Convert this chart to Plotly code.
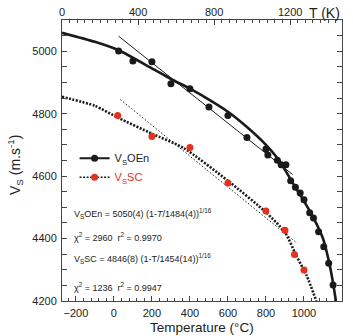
import plotly.graph_objects as go

# --- data ---
oen_T = [25, 100, 200, 300, 400, 500, 600, 700, 800, 810, 860, 880, 905, 930, 955, 980, 1000, 1030, 1050, 1077, 1104, 1130, 1153]
oen_V = [5001, 4969, 4966, 4896, 4880, 4821, 4794, 4724, 4687, 4668, 4651, 4636, 4636, 4585, 4564, 4546, 4524, 4483, 4466, 4422, 4374, 4321, 4251]

sc_T = [20, 200, 400, 600, 800, 900, 950, 1000]
sc_V = [4794, 4727, 4692, 4578, 4488, 4427, 4349, 4299]

# fit curves
oen_fit_T = [-273, -100, 25, 200, 300, 400, 500, 600, 700, 800, 850, 900, 950, 1000, 1050, 1100, 1130, 1150, 1168]
oen_fit_V = [5059, 5030, 5003, 4945, 4911, 4880, 4845, 4806, 4757, 4700, 4665, 4620, 4569, 4520, 4466, 4400, 4330, 4268, 4200]
sc_fit_T = [-273, -100, 25, 200, 367, 600, 800, 900, 960, 1015, 1065]
sc_fit_V = [4854, 4825, 4786, 4736, 4690, 4585, 4484, 4420, 4345, 4280, 4200]

# linear (low-T) fits
oen_lin_T = [25, 940]
oen_lin_V = [5048, 4605]
sc_lin_T = [34, 964]
sc_lin_V = [4845, 4385]

x_ticks = [-200, 0, 200, 400, 600, 800, 1000, 1200]
k_ticks = [0, 400, 800, 1200]
y_ticks = [4200, 4400, 4600, 4800, 5000]

RED = "#e4321f"
BLK = "#1a1a1a"
FONT = "Liberation Sans"

fig = go.Figure()
fig.add_trace(go.Scatter(x=oen_fit_T, y=oen_fit_V, mode="lines", line=dict(color=BLK, width=2.6, shape="spline", smoothing=0.6), showlegend=False))
fig.add_trace(go.Scatter(x=oen_lin_T, y=oen_lin_V, mode="lines", line=dict(color=BLK, width=1), showlegend=False))
fig.add_trace(go.Scatter(x=sc_fit_T, y=sc_fit_V, mode="lines", line=dict(color=BLK, width=2.6, dash="2px,1.5px", shape="spline", smoothing=0.6), showlegend=False))
fig.add_trace(go.Scatter(x=sc_lin_T, y=sc_lin_V, mode="lines", line=dict(color=BLK, width=1, dash="1.5px,2px"), showlegend=False))
fig.add_trace(go.Scatter(x=oen_T, y=oen_V, mode="markers", marker=dict(color=BLK, size=7), showlegend=False))
fig.add_trace(go.Scatter(x=sc_T, y=sc_V, mode="markers", marker=dict(color=RED, size=7), showlegend=False))

# legend entries
fig.add_trace(go.Scatter(x=[None], y=[None], mode="lines+markers", name="V<sub>S</sub>OEn",
                         line=dict(color=BLK, width=2), marker=dict(color=BLK, size=7)))
fig.add_trace(go.Scatter(x=[None], y=[None], mode="lines+markers", name="<span style='color:%s'>V<sub>S</sub>SC</span>" % RED,
                         line=dict(color=BLK, width=1.5, dash="2px,1.5px"), marker=dict(color=RED, size=7)))

# invisible trace for top Kelvin axis
fig.add_trace(go.Scatter(x=[0, 1473], y=[4200, 4200], xaxis="x2", mode="markers", marker=dict(opacity=0), showlegend=False, hoverinfo="skip"))

axis_common = dict(showgrid=False, zeroline=False, linecolor="#444", linewidth=1, ticks="inside", ticklen=5,
                   tickcolor="#444", tickfont=dict(family=FONT, size=11, color="#222"), automargin=False)

fig.update_layout(
    width=353, height=336,
    margin=dict(l=62, r=11, t=20, b=35),
    paper_bgcolor="white", plot_bgcolor="white",
    font=dict(family=FONT, color="#222"),
    xaxis=dict(range=[-273, 1200], tickvals=x_ticks, mirror=True, ticklabelstandoff=2,
               minor=dict(dtick=40, ticks="inside", ticklen=3, tickcolor="#444"), **axis_common),
    xaxis2=dict(range=[0, 1473], overlaying="x", side="top", tickvals=k_ticks, showticklabels=False,
                minor=dict(dtick=40, ticks="inside", ticklen=3, tickcolor="#444"), **axis_common),
    yaxis=dict(range=[4200, 5100], tickvals=y_ticks, mirror="allticks", ticklabelstandoff=2,
               minor=dict(dtick=50, ticks="inside", ticklen=3, tickcolor="#444"), **axis_common),
    legend=dict(x=0.045, y=0.56, xanchor="left", yanchor="top", bgcolor="rgba(0,0,0,0)",
                font=dict(family=FONT, size=11, color=BLK), tracegroupgap=0, itemwidth=30),
)

# top (Kelvin) tick labels
for k in k_ticks:
    fig.add_annotation(text=str(k), xref="x2", yref="paper", x=k, y=(301 - 12) / 281,
                       xanchor="center", yanchor="middle", showarrow=False, font=dict(family=FONT, size=11, color="#222"))

ann_font = dict(family=FONT, size=9, color="#222")
texts = [
    ("V<sub>S</sub>OEn = 5050(4) (1-<i>T</i>/1484(4))<sup>1/16</sup>", 213),
    ("χ<sup>2</sup> = 2960  r<sup>2</sup> = 0.9970", 237),
    ("V<sub>S</sub>SC = 4846(8) (1-T/1454(14))<sup>1/16</sup>", 258),
    ("χ<sup>2</sup> = 1236  r<sup>2</sup> = 0.9947", 287),
]
for t, ypx in texts:
    fig.add_annotation(text=t, xref="paper", yref="paper", x=(72 - 62) / 280, y=(301 - ypx) / 281,
                       xanchor="left", yanchor="middle", showarrow=False, font=ann_font)
fig.add_annotation(text="T (K)", xref="paper", yref="paper", x=1.0, y=(301 - 13) / 281, xanchor="right", yanchor="middle",
                   showarrow=False, font=dict(family=FONT, size=14, color="#222"))
fig.add_annotation(text="Temperature (°C)", xref="paper", yref="paper", x=0.5, y=(301 - 327) / 281,
                   xanchor="center", yanchor="middle", showarrow=False, font=dict(family=FONT, size=13.5, color="#222"))
fig.add_annotation(text="V<sub>S</sub> (m.s<sup>-1</sup>)", xref="paper", yref="paper", x=(15 - 62) / 280, y=(301 - 165) / 281,
                   xanchor="center", yanchor="middle", textangle=-90, showarrow=False, font=dict(family=FONT, size=14, color="#222"))

fig.write_html("out.html")
